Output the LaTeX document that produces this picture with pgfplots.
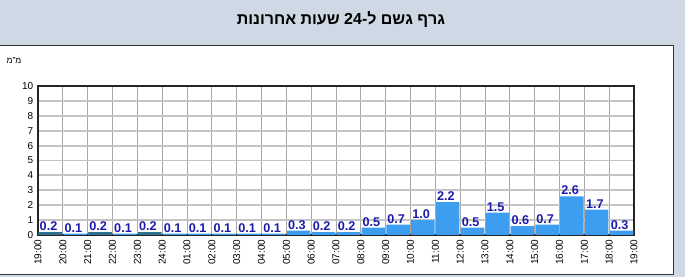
\documentclass[border=0pt]{standalone}
\usepackage{pgfplots}
\pgfplotsset{compat=1.18}
\usepackage{fontspec}
\setmainfont{Liberation Sans}
\TeXXeTstate=1
\definecolor{bgc}{HTML}{CED9E5}
\definecolor{barc}{HTML}{3D9DF0}
\definecolor{barc2}{HTML}{2F6F8F}
\definecolor{labc}{HTML}{1C1CAA}
\definecolor{hgrid}{HTML}{C4C4C4}
\definecolor{vgrid}{HTML}{A8A8A8}
\pgfplotstableread{
x y
0.5 0.2
1.5 0.1
2.5 0.2
3.5 0.1
4.5 0.2
5.5 0.1
6.5 0.1
7.5 0.1
8.5 0.1
9.5 0.1
10.5 0.3
11.5 0.2
12.5 0.2
13.5 0.5
14.5 0.7
15.5 1.0
16.5 2.2
17.5 0.5
18.5 1.5
19.5 0.6
20.5 0.7
21.5 2.6
22.5 1.7
23.5 0.3
}\raindata
\begin{document}
\begin{tikzpicture}[x=0.75pt,y=0.75pt]
\path[use as bounding box] (0,0) rectangle (685,277);
\fill[bgc] (0,0) rectangle (685,277);
\draw[fill=white, draw=black!80, line width=0.75pt] (-2,2) rectangle (673,231);
\node[font=\bfseries\fontsize{12}{14}\selectfont] at (341,257) {\beginR גרף גשם ל-\beginL24\endL{} שעות אחרונות\endR};
\node[font=\fontsize{6.5}{8}\selectfont] at (14,216) {\beginR מ"מ\endR};
\begin{axis}[
  at={(28.5pt,31.5pt)}, anchor=south west,
  width=447pt, height=111.75pt, scale only axis,
  xmin=0, xmax=24, ymin=0, ymax=10,
  xtick={0,...,24},
  xticklabels={{19:00},{20:00},{21:00},{22:00},{23:00},{24:00},{01:00},{02:00},{03:00},{04:00},{05:00},{06:00},{07:00},{08:00},{09:00},{10:00},{11:00},{12:00},{13:00},{14:00},{15:00},{16:00},{17:00},{18:00},{19:00}},
  ytick={0,...,10},
  /pgf/number format/assume math mode=true,
  tick label style={font=\fontsize{7.5}{9}\selectfont},
  xticklabel style={rotate=90, anchor=east},
  tick style={draw=none},
  xmajorgrids, ymajorgrids,
  x grid style={vgrid, line width=0.6pt},
  y grid style={hgrid, line width=1.4pt},
  axis line style={black!85, line width=1.5pt},
]
\addplot[ybar, bar shift=0pt, bar width=0.94, fill=barc, draw=none,
  nodes near coords,
  nodes near coords style={font=\bfseries\fontsize{9.5}{10}\selectfont, text=labc, anchor=south west, xshift=-9pt, inner sep=0.8pt,
    /pgf/number format/.cd, fixed, fixed zerofill, precision=1, assume math mode=true},
] table[x=x, y=y] {\raindata};
\addplot[ybar, bar shift=0pt, bar width=0.94, fill=barc2, draw=none] coordinates {(0.5,0.2) (2.5,0.2) (4.5,0.2)};
\end{axis}
\end{tikzpicture}
\end{document}
